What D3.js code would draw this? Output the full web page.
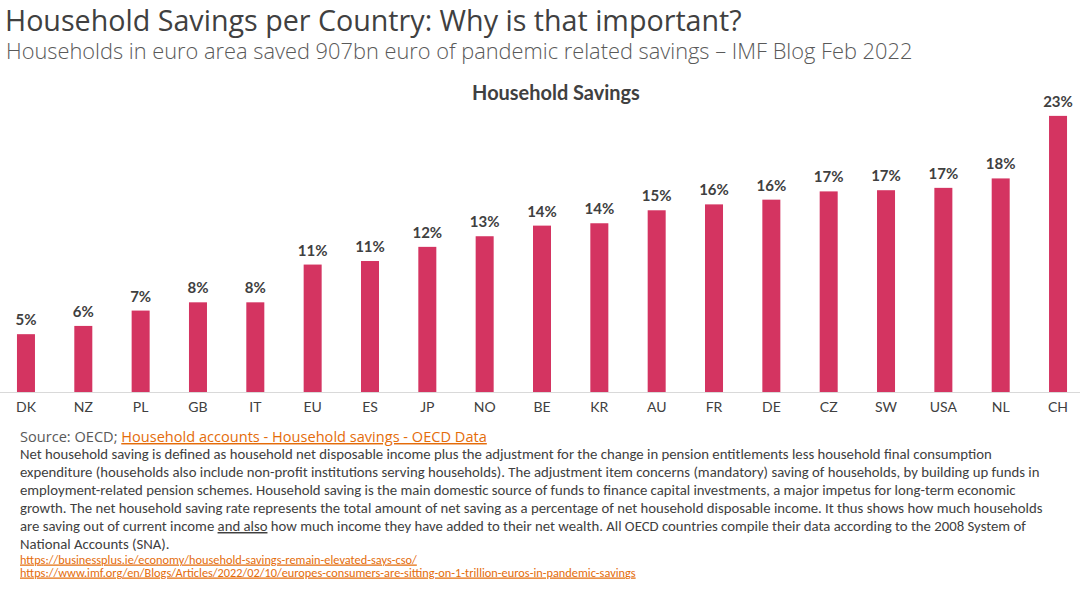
<!DOCTYPE html>
<html>
<head>
<meta charset="utf-8">
<script src="https://cdn.jsdelivr.net/npm/d3@7"></script>
<style>
  html, body { margin: 0; padding: 0; background: #fff; }
  svg { display: block; }
</style>
</head>
<body>
<div id="chart"></div>
<script>
const countries = ["DK","NZ","PL","GB","IT","EU","ES","JP","NO","BE","KR","AU","FR","DE","CZ","SW","USA","NL","CH"]
const savings = [4.9, 5.6, 6.9, 7.6, 7.6, 10.8, 11.1, 12.3, 13.2, 14.1, 14.3, 15.4, 15.9, 16.3, 17.0, 17.1, 17.3, 18.1, 23.4]

const title = "Household Savings per Country: Why is that important?"
const subtitle = "Households in euro area saved 907bn euro of pandemic related savings \u2013 IMF Blog Feb 2022"
const chartTitle = "Household Savings"
const sourceLabel = "Source: OECD; "
const sourceLink = "Household accounts - Household savings - OECD Data"
const noteLines = [
  "Net household saving is defined as household net disposable income plus the adjustment for the change in pension entitlements less household final consumption",
  "expenditure (households also include non-profit institutions serving households). The adjustment item concerns (mandatory) saving of households, by building up funds in",
  "employment-related pension schemes. Household saving is the main domestic source of funds to finance capital investments, a major impetus for long-term economic",
  "growth. The net household saving rate represents the total amount of net saving as a percentage of net household disposable income. It thus shows how much households",
  "are saving out of current income |and also| how much income they have added to their net wealth. All OECD countries compile their data according to the 2008 System of",
  "National Accounts (SNA)."
]
const links = [
  "https://businessplus.ie/economy/household-savings-remain-elevated-says-cso/",
  "https://www.imf.org/en/Blogs/Articles/2022/02/10/europes-consumers-are-sitting-on-1-trillion-euros-in-pandemic-savings"
]

const width = 1080, height = 589
const svg = d3.select("#chart").append("svg")
    .attr("width", width)
    .attr("height", height)

// shrink/grow font so text spans the wanted width
function fit(sel, target) {
    const size = parseFloat(sel.attr("font-size"))
    const w = sel.node().getComputedTextLength()
    sel.attr("font-size", (size * target / w).toFixed(2))
}

// header
const t = svg.append("text")
    .attr("x", 5).attr("y", 31)
    .attr("font-family", "'Segoe UI', 'Open Sans', sans-serif")
    .attr("font-size", 30)
    .attr("fill", "#404040")
    .text(title)
fit(t, 737)

const st = svg.append("text")
    .attr("x", 6).attr("y", 59)
    .attr("font-family", "'Segoe UI', 'Open Sans', sans-serif")
    .attr("font-weight", 300)
    .attr("font-size", 22)
    .attr("fill", "#595959")
    .text(subtitle)
fit(st, 907)

// bar chart
const x = d3.scaleBand()
    .domain(countries)
    .range([-2.7, 1086.7])
    .paddingInner(0.686)
    .paddingOuter(0.343)

const y = d3.scaleLinear()
    .domain([0, 25])
    .range([392, 97])

const ct = svg.append("text")
    .attr("x", 556).attr("y", 100)
    .attr("text-anchor", "middle")
    .attr("font-family", "Lato, sans-serif")
    .attr("font-weight", "bold")
    .attr("font-size", 20)
    .attr("fill", "#404040")
    .text(chartTitle)
fit(ct, 168)

svg.append("g")
    .attr("id", "bars")
    .selectAll("rect")
    .data(countries)
    .join("rect")
    .attr("x", d => x(d))
    .attr("width", x.bandwidth())
    .attr("y", (d, i) => y(savings[i]))
    .attr("height", (d, i) => y(0) - y(savings[i]))
    .attr("fill", "#d43461")

svg.append("g")
    .attr("id", "values")
    .selectAll("text")
    .data(countries)
    .join("text")
    .attr("x", d => x(d) + x.bandwidth() / 2)
    .attr("y", (d, i) => y(savings[i]) - 9)
    .attr("text-anchor", "middle")
    .attr("font-family", "Lato, sans-serif")
    .attr("font-weight", "bold")
    .attr("font-size", 15)
    .attr("fill", "#404040")
    .text((d, i) => Math.round(savings[i]) + "%")

const xAxis = svg.append("g")
    .attr("transform", `translate(0,${y(0)})`)
    .call(d3.axisBottom(x).tickSize(0).tickPadding(10))
xAxis.select(".domain").attr("stroke", "#d9d9d9").attr("d", `M0,0.5H${width}`)
xAxis.selectAll("text")
    .attr("font-family", "Lato, sans-serif")
    .attr("font-size", 14)
    .attr("fill", "#404040")

// footer
const src = svg.append("text")
    .attr("x", 20).attr("y", 442)
    .attr("font-family", "'Segoe UI', 'Open Sans', sans-serif")
    .attr("font-size", 14)
    .attr("fill", "#595959")
src.append("tspan").text(sourceLabel)
src.append("tspan")
    .attr("fill", "#e46c0a")
    .attr("text-decoration", "underline")
    .text(sourceLink)
fit(src, 467)

const note = svg.append("g")
    .attr("font-family", "Calibri, Carlito, 'Noto Sans', sans-serif")
    .attr("font-size", 13)
    .attr("fill", "#404040")
const noteText = note.selectAll("text")
    .data(noteLines)
    .join("text")
    .attr("x", 20)
    .attr("y", (d, i) => 459 + i * 18)
noteText.each(function(d) {
    const parts = d.split("|")
    const el = d3.select(this)
    parts.forEach((p, k) => {
        const ts = el.append("tspan").text(p)
        if (k === 1) ts.attr("text-decoration", "underline").style("text-decoration-style", "dotted").style("text-decoration-color", "#c8a040")
    })
})
// scale note font from the widest line
const widest = noteText.nodes()[3]
const nw = widest.getComputedTextLength()
note.attr("font-size", (13 * 1023 / nw).toFixed(2))

const linkText = svg.append("g")
    .attr("font-family", "Calibri, Carlito, 'Noto Sans', sans-serif")
    .attr("font-size", 11)
    .attr("fill", "#e46c0a")
    .attr("text-decoration", "underline")
    .selectAll("text")
    .data(links)
    .join("text")
    .attr("x", 20)
    .attr("y", (d, i) => 563.5 + i * 13)
    .text(d => d)
const lw = linkText.nodes()[1].getComputedTextLength()
linkText.attr("font-size", (11 * 616 / lw).toFixed(2))
</script>
</body>
</html>
